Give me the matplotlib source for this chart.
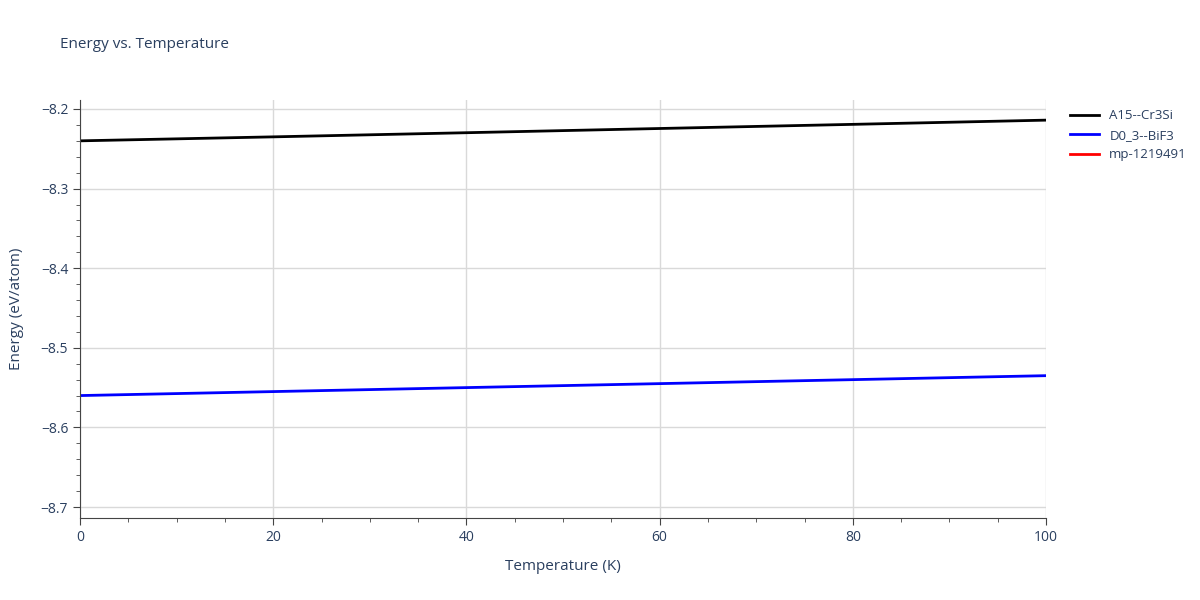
import matplotlib.pyplot as plt
from matplotlib.ticker import MultipleLocator

temps = [0, 20, 40, 60, 80, 100]
a15_energy = [-8.2400, -8.2350, -8.2298, -8.2245, -8.2193, -8.2140]
d03_energy = [-8.5600, -8.5550, -8.5500, -8.5450, -8.5400, -8.5350]
mp_temps = []
mp_energy = []

text_color = '#2a3f5f'
plt.rcParams['font.family'] = ['Open Sans', 'DejaVu Sans']

fig = plt.figure(figsize=(12, 6), dpi=100)
ax = fig.add_axes([80 / 1200, 1 - 518 / 600, 966 / 1200, 418 / 600])

ax.plot(temps, a15_energy, color='black', lw=2, label='A15--Cr3Si')
ax.plot(temps, d03_energy, color='blue', lw=2, label='D0_3--BiF3')
ax.plot(mp_temps, mp_energy, color='red', lw=2, label='mp-1219491')

ax.set_xlim(0, 100)
ax.set_ylim(-8.7138, -8.1887)
ax.xaxis.set_major_locator(MultipleLocator(20))
ax.xaxis.set_minor_locator(MultipleLocator(5))
ax.yaxis.set_major_locator(MultipleLocator(0.1))
ax.yaxis.set_minor_locator(MultipleLocator(0.02))
ax.yaxis.set_major_formatter(plt.FuncFormatter(lambda v, p: f'{v:.1f}'.replace('-', '\u2212')))
ax.grid(True, which='major', color='#d9d9d9', lw=1)
ax.set_axisbelow(True)
for s in ['top', 'right']:
    ax.spines[s].set_visible(False)
for s in ['left', 'bottom']:
    ax.spines[s].set_color('#444')
ax.tick_params(which='both', colors='#444', labelcolor=text_color, labelsize=10)
ax.tick_params(which='major', length=5)
ax.tick_params(which='minor', length=3)

ax.set_xlabel('Temperature (K)', color=text_color, fontsize=11, labelpad=10)
ax.set_ylabel('Energy (eV/atom)', color=text_color, fontsize=11, labelpad=12)
fig.text(60 / 1200, 1 - 45 / 600, 'Energy vs. Temperature', color=text_color,
         fontsize=11, va='center')

ax.legend(loc='upper left', bbox_to_anchor=(1.015, 1.0), frameon=False,
          fontsize=9.5, labelcolor=text_color, handlelength=2.2, borderaxespad=0.3)

fig.savefig('out.png', dpi=100)
